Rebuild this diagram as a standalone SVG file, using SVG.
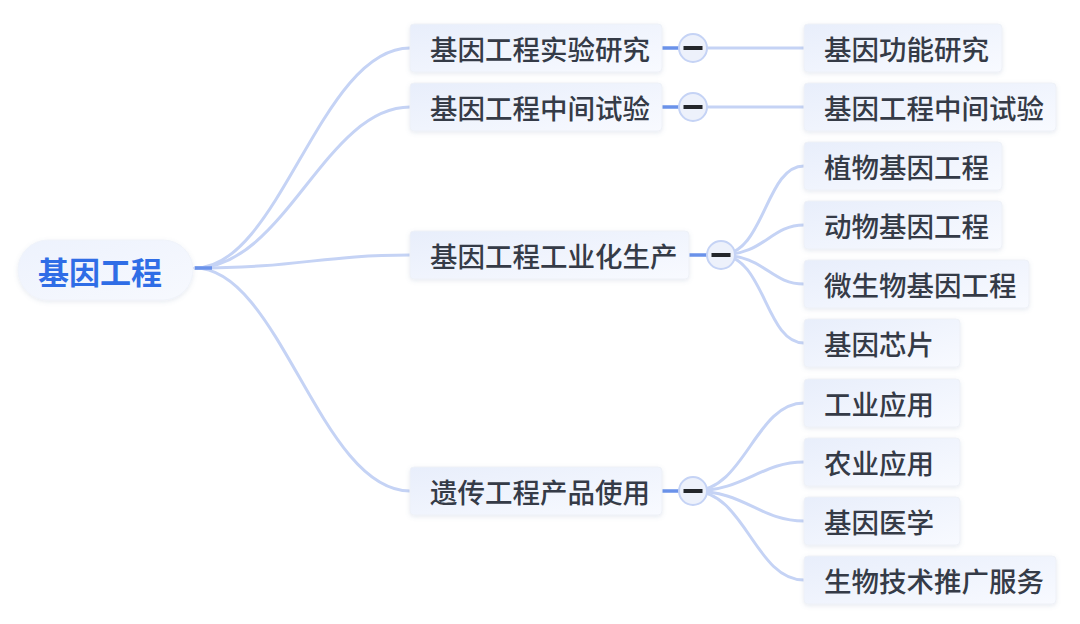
<svg xmlns="http://www.w3.org/2000/svg" width="1080" height="624" viewBox="0 0 1080 624">
<defs>
<linearGradient id="gBox" x1="0" y1="0" x2="1" y2="1">
<stop offset="0" stop-color="#e8eefb"/>
<stop offset="1" stop-color="#f8faff"/>
</linearGradient>
<linearGradient id="gRoot" x1="0" y1="0" x2="1" y2="1">
<stop offset="0" stop-color="#edf2fd"/>
<stop offset="1" stop-color="#f7f9fe"/>
</linearGradient>
<filter id="sh" x="-10%" y="-20%" width="120%" height="150%">
<feDropShadow dx="0" dy="1.5" stdDeviation="2" flood-color="#6b7fa8" flood-opacity="0.16"/>
</filter>
</defs>
<style>
.box{fill:url(#gBox);stroke:#eef1f7;stroke-width:1;filter:url(#sh)}
.t{font-family:"Noto Sans CJK SC","Noto Sans",sans-serif;font-size:27.5px;font-weight:500;fill:#353b47;dominant-baseline:central}
.root{fill:url(#gRoot);stroke:#f0f3fa;stroke-width:1;filter:url(#sh)}
.rt{font-family:"Noto Sans CJK SC","Noto Sans",sans-serif;font-size:31px;font-weight:bold;fill:#2f6de6;dominant-baseline:central}
.c{fill:none;stroke:#c5d3f5;stroke-width:3;stroke-linecap:round}
.d{fill:none;stroke:#6a92ea;stroke-width:3.5}
.fold{fill:#edf1fb;stroke:#c5d3f5;stroke-width:2}
.bar{fill:#23262b}
</style>
<rect width="1080" height="624" fill="#ffffff"/>
<g id="connectors">
<path class="c" d="M195,268 C280,268 320,48 410,48"/>
<path class="c" d="M195,268 C285,268 325,107 410,107"/>
<path class="c" d="M195,268 C300,268 320,255 410,255"/>
<path class="c" d="M195,268 C280,268 320,491 410,491"/>
<path class="d" d="M195,268 L212,268"/>
<path class="d" d="M662,48 L680,48"/>
<path class="d" d="M662,107 L680,107"/>
<path class="d" d="M689,255 L707,255"/>
<path class="d" d="M662,491 L680,491"/>
<path class="c" d="M706,48 L804,48"/>
<path class="c" d="M706,107 L804,107"/>
<path class="c" d="M720,255 C765,255 765,166 804,166"/>
<path class="c" d="M720,255 C765,255 770,225 804,225"/>
<path class="c" d="M720,255 C765,255 770,284 804,284"/>
<path class="c" d="M720,255 C765,255 765,343 804,343"/>
<path class="c" d="M693,491 C745,491 755,403 804,403"/>
<path class="c" d="M693,491 C745,491 760,462 804,462"/>
<path class="c" d="M693,491 C745,491 760,521 804,521"/>
<path class="c" d="M693,491 C745,491 755,580 804,580"/>
</g>
<g id="root">
<rect class="root" x="18" y="240" width="175" height="60" rx="30"/>
<text class="rt" x="38" y="270">基因工程</text>
</g>
<g id="n1">
<rect class="box" x="410" y="24" width="252" height="48" rx="4"/>
<text class="t" x="430" y="48">基因工程实验研究</text>
</g>
<g id="n2">
<rect class="box" x="410" y="83" width="252" height="48" rx="4"/>
<text class="t" x="430" y="107">基因工程中间试验</text>
</g>
<g id="n3">
<rect class="box" x="410" y="231" width="279" height="48" rx="4"/>
<text class="t" x="430" y="255">基因工程工业化生产</text>
</g>
<g id="n4">
<rect class="box" x="410" y="467" width="252" height="48" rx="4"/>
<text class="t" x="430" y="491">遗传工程产品使用</text>
</g>
<g id="f1"><circle class="fold" cx="693" cy="48" r="14"/><rect class="bar" x="683.5" y="46" width="19" height="4"/></g>
<g id="f2"><circle class="fold" cx="693" cy="107" r="14"/><rect class="bar" x="683.5" y="105" width="19" height="4"/></g>
<g id="f3"><circle class="fold" cx="721" cy="255" r="14"/><rect class="bar" x="711.5" y="253" width="19" height="4"/></g>
<g id="f4"><circle class="fold" cx="693" cy="491" r="14"/><rect class="bar" x="683.5" y="489" width="19" height="4"/></g>
<g id="c1"><rect class="box" x="804" y="24" width="198" height="48" rx="4"/><text class="t" x="824" y="48">基因功能研究</text></g>
<g id="c2"><rect class="box" x="804" y="83" width="252" height="48" rx="4"/><text class="t" x="824" y="107">基因工程中间试验</text></g>
<g id="c3"><rect class="box" x="804" y="142" width="198" height="48" rx="4"/><text class="t" x="824" y="166">植物基因工程</text></g>
<g id="c4"><rect class="box" x="804" y="201" width="198" height="48" rx="4"/><text class="t" x="824" y="225">动物基因工程</text></g>
<g id="c5"><rect class="box" x="804" y="260" width="225" height="48" rx="4"/><text class="t" x="824" y="284">微生物基因工程</text></g>
<g id="c6"><rect class="box" x="804" y="319" width="156" height="48" rx="4"/><text class="t" x="824" y="343">基因芯片</text></g>
<g id="c7"><rect class="box" x="804" y="379" width="156" height="48" rx="4"/><text class="t" x="824" y="403">工业应用</text></g>
<g id="c8"><rect class="box" x="804" y="438" width="156" height="48" rx="4"/><text class="t" x="824" y="462">农业应用</text></g>
<g id="c9"><rect class="box" x="804" y="497" width="156" height="48" rx="4"/><text class="t" x="824" y="521">基因医学</text></g>
<g id="c10"><rect class="box" x="804" y="556" width="252" height="48" rx="4"/><text class="t" x="824" y="580">生物技术推广服务</text></g>
</svg>
